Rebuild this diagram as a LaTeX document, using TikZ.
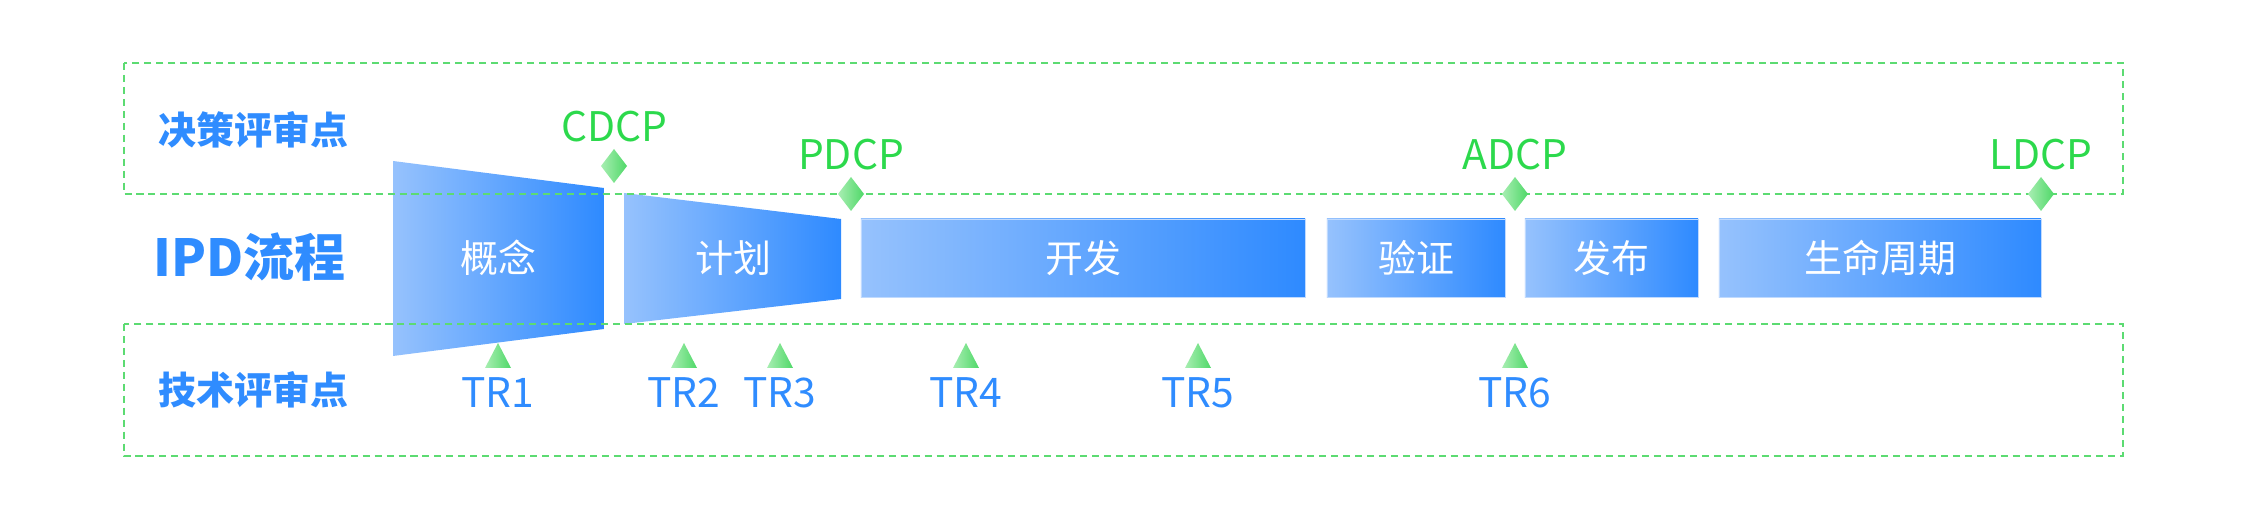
\documentclass[tikz,border=0pt]{standalone}
\usepackage{fontspec}
\setmainfont{Noto Sans CJK SC}
\usepackage{tikz}

\definecolor{ipdblue}{HTML}{2F8CFF}
\definecolor{boxlight}{HTML}{96C2FD}
\definecolor{boxdark}{HTML}{2E8AFF}
\definecolor{dcpgreen}{HTML}{2CD94C}
\definecolor{dashgreen}{HTML}{5CDB72}
\definecolor{marklight}{HTML}{A8EEB2}
\definecolor{markdark}{HTML}{4FD868}

\begin{document}
\begin{tikzpicture}[x=0.01cm, y=-0.01cm,
        stage/.style={rectangle,
                left color=boxlight, right color=boxdark,
                draw=boxlight!60!white, line width=0.2pt,
                minimum height=0.78cm, inner sep=0pt,
                text=white, font=\fontsize{10.8}{12}\selectfont},
        stagetext/.style={text=white, inner sep=0pt,
                font=\fontsize{10.8}{12}\selectfont},
        rowlabel/.style={text=ipdblue, anchor=west, inner sep=0pt,
                font=\bfseries\fontsize{10.8}{12}\selectfont},
        dcp/.style={text=dcpgreen, anchor=base, inner sep=0pt,
                font=\fontsize{11.6}{13}\selectfont},
        tr/.style={text=ipdblue, anchor=base, inner sep=0pt,
                font=\fontsize{11.6}{13}\selectfont},
        gem/.style={left color=marklight, right color=markdark},
        zone/.style={dashgreen, dash pattern=on 2pt off 1.4pt, line width=0.6pt}]
            \useasboundingbox (0,0) rectangle (2248,516);

            % phases
            \shade[left color=boxlight, right color=boxdark]
                (393,161) -- (604,188) -- (604,329) -- (393,356) -- cycle;
            \shade[left color=boxlight, right color=boxdark]
                (624,193) -- (841,219) -- (841,299) -- (624,324) -- cycle;
            \node[stagetext] (gainian) at (498,258) {概念};
            \node[stagetext] (jihua) at (733,258) {计划};
            \node[stage, minimum width=4.44cm] (kaifa) at (1083,258) {开发};
            \node[stage, minimum width=1.78cm] (yanzheng) at (1416,258) {验证};
            \node[stage, minimum width=1.73cm] (fabu) at (1611.5,258) {发布};
            \node[stage, minimum width=3.22cm] (shengming) at (1880,258) {生命周期};

            % review zones
            \draw[zone] (124,63) rectangle (2123,194);
            \draw[zone] (124,324) rectangle (2123,456);

            \node[rowlabel] (juece) at (158,130) {决策评审点};
            \node[rowlabel, font=\bfseries\fontsize{14.5}{16}\selectfont] (ipd) at (153,257) {IPD流程};
            \node[rowlabel] (jishu) at (158,390) {技术评审点};

            \foreach \px/\py/\t in {614/166/CDCP, 851/194/PDCP, 1515/194/ADCP, 2041/194/LDCP} {
                    \shade[gem] (\px,\py-17) -- (\px+13,\py) -- (\px,\py+17) -- (\px-13,\py) -- cycle;
                    \node[dcp] (\t) at (\px,\py-24) {\t};
                }

            \foreach \px/\t in {498/TR1, 684/TR2, 780/TR3, 966/TR4, 1198/TR5, 1515/TR6} {
                    \shade[gem] (\px,343) -- (\px+13,368) -- (\px-13,368) -- cycle;
                    \node[tr] (\t) at (\px,408) {\t};
                }
        \end{tikzpicture}
\end{document}
